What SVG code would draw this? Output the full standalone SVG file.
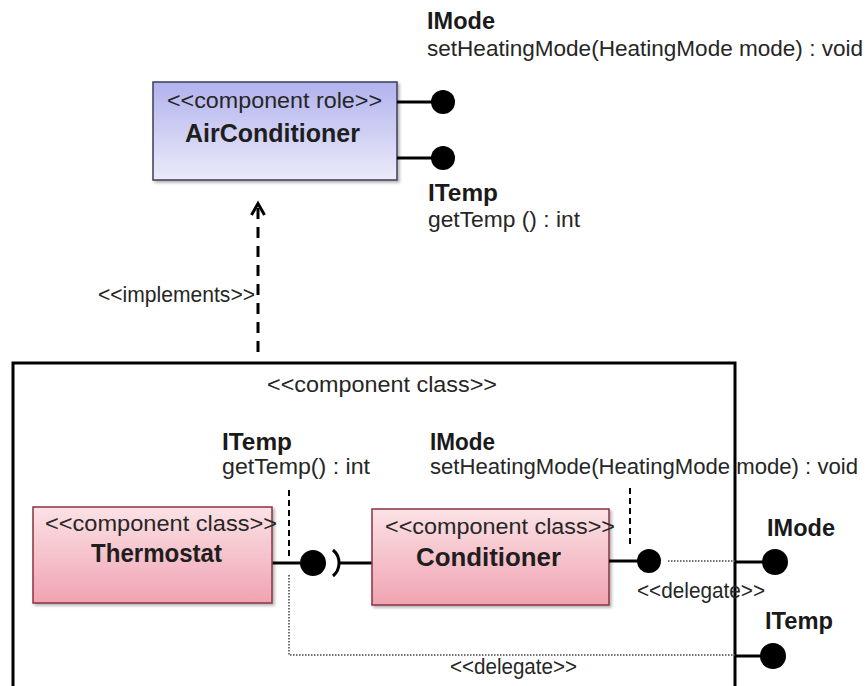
<svg xmlns="http://www.w3.org/2000/svg" width="866" height="686" viewBox="0 0 866 686">
  <defs>
    <linearGradient id="gBlue" x1="0" y1="0" x2="0" y2="1">
      <stop offset="0" stop-color="#b2b2ee"/>
      <stop offset="1" stop-color="#ebebfa"/>
    </linearGradient>
    <linearGradient id="gPink" x1="0" y1="0" x2="0" y2="1">
      <stop offset="0" stop-color="#fbe2e6"/>
      <stop offset="1" stop-color="#f0a3b1"/>
    </linearGradient>
    <filter id="sh" x="-10%" y="-10%" width="130%" height="130%">
      <feDropShadow dx="2" dy="2" stdDeviation="1.5" flood-color="#000" flood-opacity="0.3"/>
    </filter>
  </defs>
  <style>
    text { font-family: "Liberation Sans", Arial, sans-serif; fill: #262626; }
    .r { font-size: 22px; }
    .b { font-size: 24px; font-weight: bold; fill: #1a1a1a; }
    .n { font-size: 25px; font-weight: bold; fill: #1e1e1e; }
    .ball { fill: #000; }
    .ln { stroke: #000; stroke-width: 3; fill: none; }
    .dash { stroke: #000; stroke-width: 2; stroke-dasharray: 6 4; fill: none; }
    .dot { stroke: #444; stroke-width: 1.5; stroke-dasharray: 1.5 1.5; fill: none; }
    .blue { fill: url(#gBlue); stroke: #3c3c5a; stroke-width: 1.5; filter: url(#sh); }
    .pink { fill: url(#gPink); stroke: #8c3040; stroke-width: 1.5; filter: url(#sh); }
  </style>
  <rect width="866" height="686" fill="#ffffff"/>

  <g id="outer-component">
    <rect x="13" y="363" width="722" height="340" fill="none" stroke="#000" stroke-width="3"/>
    <text class="r" x="267" y="392" textLength="230" lengthAdjust="spacingAndGlyphs">&lt;&lt;component class&gt;&gt;</text>
  </g>

  <g id="connectors">
    <path class="ln" d="M258 352 L258 206" stroke-dasharray="11 8"/>
    <path class="ln" d="M251.5 215 L258 203.5 L264.5 215" stroke-linejoin="miter"/>
    <text class="r" x="98" y="302" textLength="157" lengthAdjust="spacingAndGlyphs">&lt;&lt;implements&gt;&gt;</text>
    <path class="dash" d="M289 490 L289 556"/>
    <path class="dash" d="M630 488 L630 546"/>
    <path class="ln" d="M272 563 L300 563"/>
    <path class="ln" d="M333 550 A17 17 0 0 1 333 576"/>
    <path class="ln" d="M340 563 L372 563"/>
    <path class="dot" d="M668 561 L735 561"/>
    <path class="dot" d="M289 575 L289 655 L735 655"/>
    <text class="r" x="637" y="598" textLength="128" lengthAdjust="spacingAndGlyphs">&lt;&lt;delegate&gt;&gt;</text>
    <text class="r" x="450" y="674" textLength="127" lengthAdjust="spacingAndGlyphs">&lt;&lt;delegate&gt;&gt;</text>
  </g>

  <g id="AirConditioner">
    <rect class="blue" x="153" y="82" width="244" height="98"/>
    <text class="r" x="167" y="108" textLength="215" lengthAdjust="spacingAndGlyphs">&lt;&lt;component role&gt;&gt;</text>
    <text class="n" x="185" y="142" textLength="175" lengthAdjust="spacingAndGlyphs">AirConditioner</text>
  </g>

  <g id="AirConditioner-IMode">
    <path class="ln" d="M397 102 L432 102"/>
    <circle class="ball" cx="443" cy="102" r="12"/>
    <text class="b" x="427" y="29" textLength="68" lengthAdjust="spacingAndGlyphs">IMode</text>
    <text class="r" x="427" y="56" textLength="436" lengthAdjust="spacingAndGlyphs">setHeatingMode(HeatingMode mode) : void</text>
  </g>

  <g id="AirConditioner-ITemp">
    <path class="ln" d="M397 158 L432 158"/>
    <circle class="ball" cx="443" cy="158" r="12"/>
    <text class="b" x="428" y="201" textLength="70" lengthAdjust="spacingAndGlyphs">ITemp</text>
    <text class="r" x="428" y="227" textLength="152" lengthAdjust="spacingAndGlyphs">getTemp () : int</text>
  </g>

  <g id="Thermostat">
    <rect class="pink" x="33" y="507" width="239" height="96"/>
    <text class="r" x="45" y="531" textLength="232" lengthAdjust="spacingAndGlyphs">&lt;&lt;component class&gt;&gt;</text>
    <text class="n" x="91" y="562" textLength="131" lengthAdjust="spacingAndGlyphs">Thermostat</text>
  </g>

  <g id="Thermostat-ITemp">
    <circle class="ball" cx="313" cy="563" r="13"/>
    <text class="b" x="222" y="450" textLength="70" lengthAdjust="spacingAndGlyphs">ITemp</text>
    <text class="r" x="222" y="474" textLength="148" lengthAdjust="spacingAndGlyphs">getTemp() : int</text>
  </g>

  <g id="Conditioner">
    <rect class="pink" x="372" y="509" width="237" height="96"/>
    <text class="r" x="385" y="534" textLength="230" lengthAdjust="spacingAndGlyphs">&lt;&lt;component class&gt;&gt;</text>
    <text class="n" x="416" y="566" textLength="145" lengthAdjust="spacingAndGlyphs">Conditioner</text>
  </g>

  <g id="Conditioner-IMode">
    <path class="ln" d="M609 561 L637 561"/>
    <circle class="ball" cx="649" cy="561" r="12"/>
    <text class="b" x="430" y="450" textLength="65" lengthAdjust="spacingAndGlyphs">IMode</text>
    <text class="r" x="430" y="474" textLength="428" lengthAdjust="spacingAndGlyphs">setHeatingMode(HeatingMode mode) : void</text>
  </g>

  <g id="Port-IMode">
    <path class="ln" d="M735 562 L764 562"/>
    <circle class="ball" cx="775" cy="562" r="13"/>
    <text class="b" x="767" y="536" textLength="68" lengthAdjust="spacingAndGlyphs">IMode</text>
  </g>

  <g id="Port-ITemp">
    <path class="ln" d="M735 656 L762 656"/>
    <circle class="ball" cx="773" cy="656" r="13"/>
    <text class="b" x="765" y="629" textLength="68" lengthAdjust="spacingAndGlyphs">ITemp</text>
  </g>
</svg>
